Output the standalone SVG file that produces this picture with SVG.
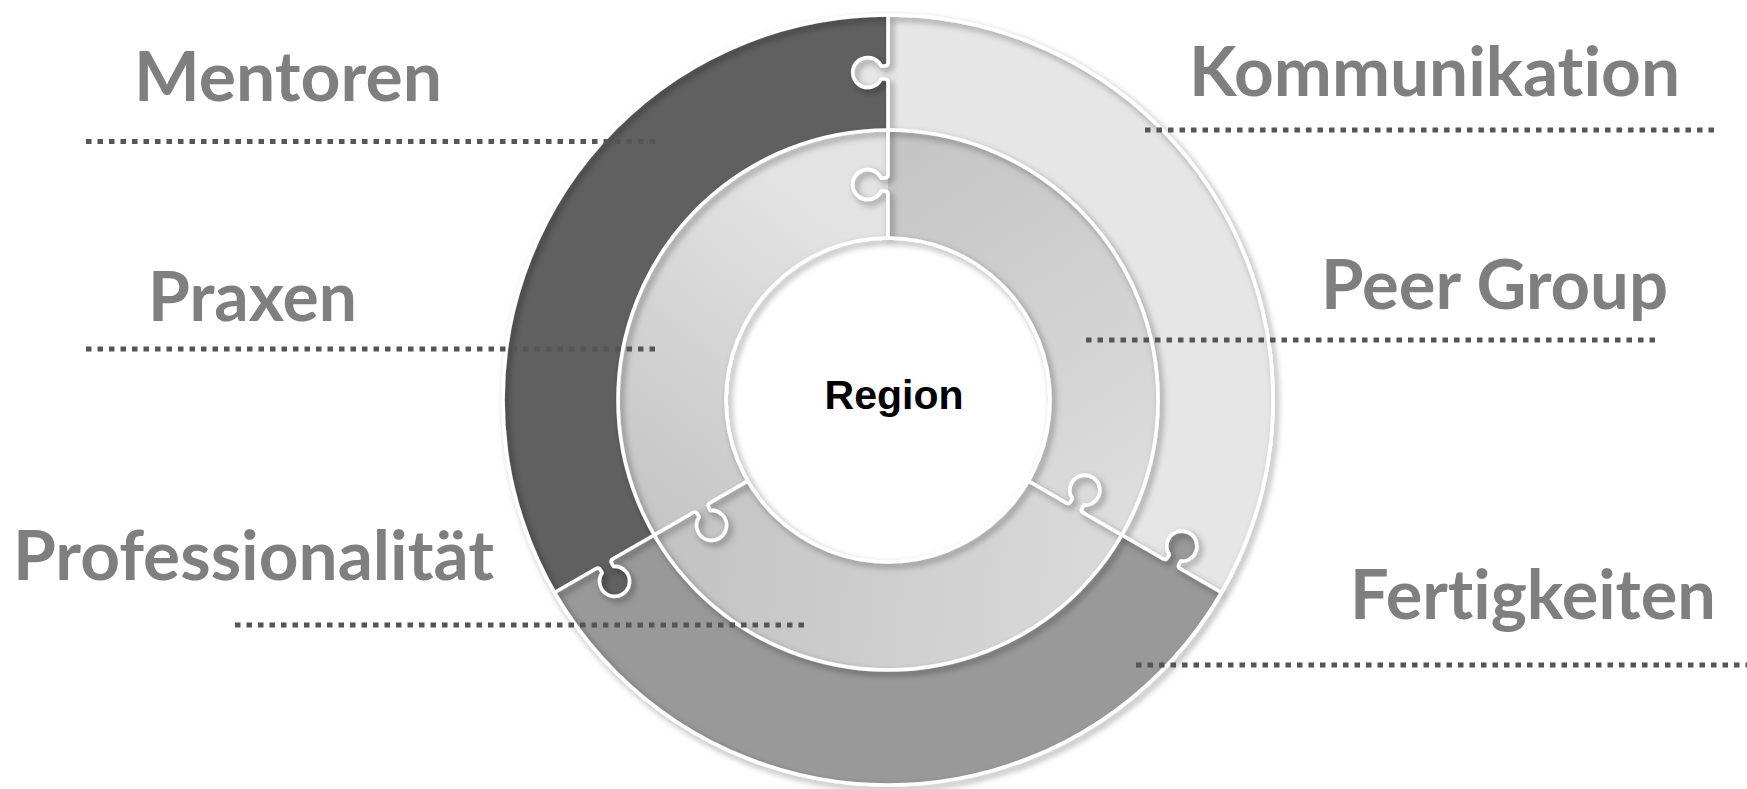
<svg xmlns="http://www.w3.org/2000/svg" width="1747" height="789" viewBox="0 0 1747 789">
<style>
.lbl{font-family:Lato,"Open Sans","Liberation Sans",sans-serif;font-weight:700;font-size:68px;fill:#7f7f7f;font-variant-ligatures:none;font-feature-settings:"liga" 0,"clig" 0}
.dot{stroke:#555555;stroke-width:5;stroke-dasharray:5.5 6;fill:none}
.wl{fill:none;stroke:#ffffff;stroke-width:3.6;stroke-linejoin:round}
</style>
<defs>
<filter id="sh" x="-10%" y="-10%" width="120%" height="120%">
<feDropShadow dx="3" dy="3.5" stdDeviation="3.2" flood-color="#000" flood-opacity="0.42"/>
</filter>
<linearGradient id="gL" gradientUnits="userSpaceOnUse" x1="840" y1="230" x2="610" y2="520">
<stop offset="0" stop-color="#e3e3e3"/><stop offset="1" stop-color="#c3c3c3"/>
</linearGradient>
<linearGradient id="gR" gradientUnits="userSpaceOnUse" x1="900" y1="140" x2="1150" y2="520">
<stop offset="0" stop-color="#c4c4c4"/><stop offset="1" stop-color="#dedede"/>
</linearGradient>
<linearGradient id="gB" gradientUnits="userSpaceOnUse" x1="660" y1="520" x2="1110" y2="560">
<stop offset="0" stop-color="#c2c2c2"/><stop offset="1" stop-color="#dadada"/>
</linearGradient>
</defs>
<rect width="1747" height="789" fill="#ffffff"/>

<g id="seg-mentoren"><path fill="#606060" d="M 554.57 592.5 A 385 385 0 0 1 888 15 L 888 130 A 270 270 0 0 0 654.17 535 Z"/></g>
<g id="seg-kommunikation"><path fill="#e6e6e6" d="M 888 15 A 385 385 0 0 1 1221.43 592.5 L 1121.83 535 A 270 270 0 0 0 888 130 Z"/></g>
<g id="seg-fertigkeiten"><path fill="#999999" d="M 1221.43 592.5 A 385 385 0 0 1 554.57 592.5 L 654.17 535 A 270 270 0 0 0 1121.83 535 Z"/></g>
<g id="seg-praxen"><path fill="url(#gL)" d="M 654.17 535 A 270 270 0 0 1 888 130 L 888 238 A 162 162 0 0 0 747.70 481 Z"/></g>
<g id="seg-peergroup"><path fill="url(#gR)" d="M 888 130 A 270 270 0 0 1 1121.83 535 L 1028.30 481 A 162 162 0 0 0 888 238 Z"/></g>
<g id="seg-professionalitaet"><path fill="url(#gB)" d="M 1121.83 535 A 270 270 0 0 1 654.17 535 L 747.70 481 A 162 162 0 0 0 1028.30 481 Z"/></g>

<g id="tabs">
<path fill="#e6e6e6" transform="translate(888 400) rotate(270)" d="M 318 1.5 L 318 0 Q 321 0 321 -4 L 321 -6.8 A 15 15 0 1 1 334 -6.8 L 334 -4 Q 334 0 337 0 L 337 1.5 Z"/>
<path fill="#999999" transform="translate(888 400) rotate(30)" d="M 318 1.5 L 318 0 Q 321 0 321 -4 L 321 -6.8 A 15 15 0 1 1 334 -6.8 L 334 -4 Q 334 0 337 0 L 337 1.5 Z"/>
<path fill="#606060" transform="translate(888 400) rotate(150)" d="M 318 1.5 L 318 0 Q 321 0 321 -4 L 321 -6.8 A 15 15 0 1 1 334 -6.8 L 334 -4 Q 334 0 337 0 L 337 1.5 Z"/>
</g>

<g id="outlines" filter="url(#sh)">
<circle class="wl" cx="888" cy="400" r="385"/>
<circle class="wl" cx="888" cy="400" r="270"/>
<circle class="wl" cx="888" cy="400" r="162"/>
<g transform="translate(888 400) rotate(270)">
<path class="wl" d="M 270 0 L 318 0 Q 321 0 321 -4 L 321 -6.8 A 15 15 0 1 1 334 -6.8 L 334 -4 Q 334 0 337 0 L 385 0"/>
<path class="wl" d="M 162 0 L 206 0 Q 209 0 209 -4 L 209 -6.8 A 15 15 0 1 1 222 -6.8 L 222 -4 Q 222 0 225 0 L 270 0"/>
</g>
<g transform="translate(888 400) rotate(30)">
<path class="wl" d="M 270 0 L 318 0 Q 321 0 321 -4 L 321 -6.8 A 15 15 0 1 1 334 -6.8 L 334 -4 Q 334 0 337 0 L 385 0"/>
<path class="wl" d="M 162 0 L 206 0 Q 209 0 209 -4 L 209 -6.8 A 15 15 0 1 1 222 -6.8 L 222 -4 Q 222 0 225 0 L 270 0"/>
</g>
<g transform="translate(888 400) rotate(150)">
<path class="wl" d="M 270 0 L 318 0 Q 321 0 321 -4 L 321 -6.8 A 15 15 0 1 1 334 -6.8 L 334 -4 Q 334 0 337 0 L 385 0"/>
<path class="wl" d="M 162 0 L 206 0 Q 209 0 209 -4 L 209 -6.8 A 15 15 0 1 1 222 -6.8 L 222 -4 Q 222 0 225 0 L 270 0"/>
</g>
</g>

<g id="node-region"><text x="894" y="409" text-anchor="middle" font-family="'Liberation Sans',Arial,sans-serif" font-weight="700" font-size="41" fill="#000000">Region</text></g>

<g id="connectors">
<line class="dot" x1="86" y1="141.5" x2="657" y2="141.5"/>
<line class="dot" x1="1145" y1="130" x2="1719" y2="130"/>
<line class="dot" x1="86" y1="349" x2="660" y2="349"/>
<line class="dot" x1="1086" y1="340" x2="1660" y2="340"/>
<line class="dot" x1="235" y1="625" x2="809" y2="625"/>
<line class="dot" x1="1136" y1="665" x2="1747" y2="665"/>
</g>

<g id="node-mentoren"><text class="lbl" x="134" y="101" textLength="308" lengthAdjust="spacingAndGlyphs">Mentoren</text></g>
<g id="node-kommunikation"><text class="lbl" x="1189" y="96" textLength="491" lengthAdjust="spacingAndGlyphs">Kommunikation</text></g>
<g id="node-praxen"><text class="lbl" x="148" y="321" textLength="209" lengthAdjust="spacingAndGlyphs">Praxen</text></g>
<g id="node-peergroup"><text class="lbl" x="1321" y="309" textLength="347" lengthAdjust="spacingAndGlyphs">Peer Group</text></g>
<g id="node-professionalitaet"><text class="lbl" x="13" y="580" textLength="481" lengthAdjust="spacingAndGlyphs">Professionalität</text></g>
<g id="node-fertigkeiten"><text class="lbl" x="1350" y="619" textLength="366" lengthAdjust="spacingAndGlyphs">Fertigkeiten</text></g>
</svg>
